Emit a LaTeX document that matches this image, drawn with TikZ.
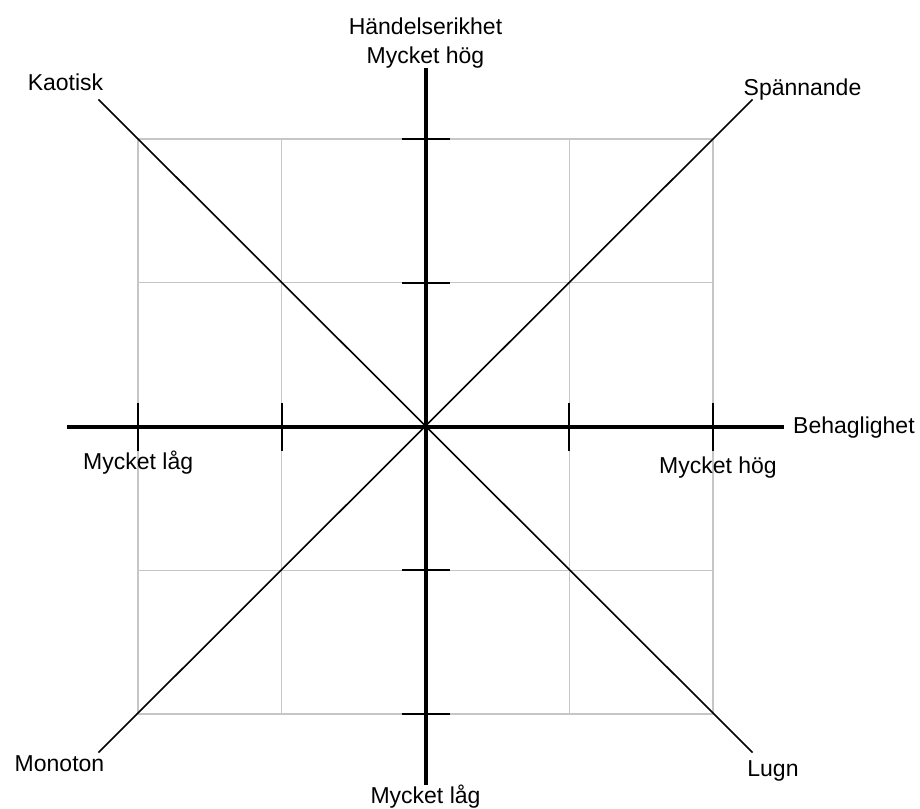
\documentclass[tikz,border=0pt]{standalone}
\usepackage{fontspec}
\setmainfont{Liberation Sans}
\usetikzlibrary{positioning}

\begin{document}
\begin{tikzpicture}[x=1pt, y=1pt]
  \tikzstyle{axis}=[line width=4pt]
  \tikzstyle{tick}=[line width=1.6pt]
  \tikzstyle{diag}=[line width=1.6pt]
  \tikzstyle{gridline}=[gray!45, line width=1.5pt]
  \tikzstyle{lbl}=[inner sep=0pt, font=\fontsize{23}{29}\selectfont]
  \useasboundingbox (-425.5,-381.5) rectangle (494.5,426.5);

  % grid
  \foreach \i in {-287.5,-143.75,0,143.75,287.5} {
    \draw[gridline] (\i,-287.5) -- (\i,287.5);
    \draw[gridline] (-287.5,\i) -- (287.5,\i);
  }

  % axes and diagonals
  \coordinate (O) at (0,0);
  \coordinate (west) at (-358.5,0);
  \coordinate (east) at (358.5,0);
  \coordinate (north) at (0,358.5);
  \coordinate (south) at (0,-358.5);
  \coordinate (kao) at (-327,327);
  \coordinate (spa) at (327,327);
  \coordinate (mon) at (-327,-326);
  \coordinate (lug) at (327,-326);
  \draw[diag] (kao) -- (lug);
  \draw[diag] (mon) -- (spa);
  \draw[axis] (west) -- (east);
  \draw[axis] (south) -- (north);
  \foreach \t in {-287.5,-143.75,143.75,287.5} {
    \draw[tick] (\t,-24) -- (\t,24);
    \draw[tick] (-24,\t) -- (24,\t);
  }

  % labels
  \node[lbl, anchor=base] (kaotisk) at (-360,335.5) {Kaotisk};
  \node[lbl, anchor=base] (spannande) at (377,330.5) {Spännande};
  \node[lbl, anchor=base] (monoton) at (-366,-345) {Monoton};
  \node[lbl, anchor=base] (lugn) at (347.5,-349.5) {Lugn};
  \node[lbl, anchor=base] (handelse) at (0,392) {Händelserikhet};
  \node[lbl, anchor=base] (ytop) at (0,363) {Mycket hög};
  \node[lbl, anchor=base] (ybot) at (0,-376.5) {Mycket låg};
  \node[lbl, anchor=base west] (behag) at (367.5,-6.5) {Behaglighet};
  \node[lbl, anchor=base west] (xlow) at (-342.5,-42.5) {Mycket låg};
  \node[lbl, anchor=base] (xhigh) at (292.5,-46.5) {Mycket hög};
\end{tikzpicture}
\end{document}
